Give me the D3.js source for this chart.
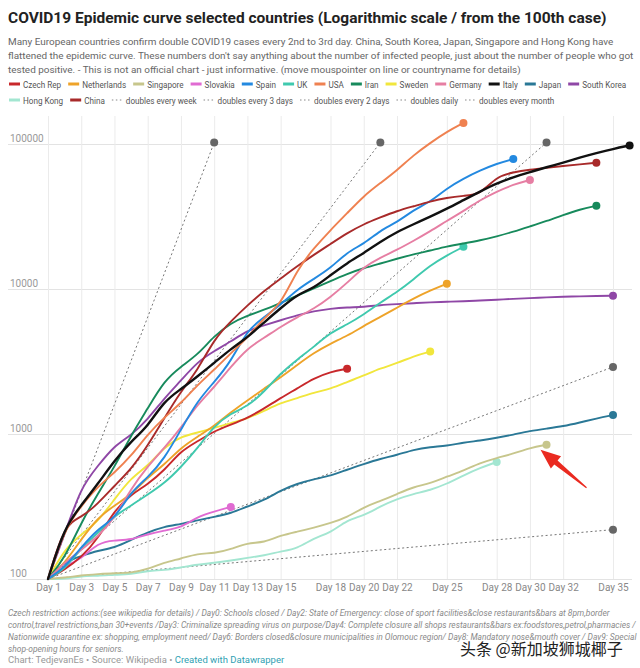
<!DOCTYPE html>
<html><head><meta charset="utf-8">
<script src="https://cdn.jsdelivr.net/npm/d3@7"></script>
<style>
body{margin:0;background:#fff;}
svg{display:block;font-family:Roboto,"Noto Sans",sans-serif;}
</style></head><body>
<svg id="c" width="640" height="668"></svg>
<script>
// ---------- DATA ----------
const countries = ["Czech Rep","Netherlands","Singapore","Slovakia","Spain","UK","USA","Iran","Sweden","Germany","Italy","Japan","South Korea","Hong Kong","China"];
const countryColors = ["#c8282b","#eea329","#c7c68c","#e06bd2","#2389e0","#3fc9ae","#ef8150","#178a5c","#f1e63c","#e67ea3","#111111","#2a7896","#8f47a6","#a3e6d1","#a82a2a"];

const czechRep = [100,116,141,189,298,383,450,560,765,889,1047,1161,1287,1497,1775,2062,2422,2689,2817];
const netherlands = [100,128,188,265,321,382,503,614,804,959,1135,1413,1705,2051,2460,2994,3631,4204,4749,5560,6412,7431,8603,9762,10866];
const singapore = [100,102,106,108,110,110,117,130,138,150,150,160,178,178,200,212,226,243,266,313,345,385,432,455,509,558,631,683,732,802,844];
const slovakia = [100,123,137,178,185,186,204,216,226,269,292,314];
const spain = [100,120,165,222,259,400,500,673,1073,1695,2277,3146,5232,6391,7798,9942,11748,13910,17963,20410,25374,28768,35136,39885,49515,57786,65719,73235,78797];
const uk = [100,116,164,207,273,321,382,456,590,798,1140,1391,1543,1950,2626,3269,3983,5018,5683,6650,8077,9529,11658,14543,17089,19522];
const usa = [100,221,319,435,541,704,994,1301,1630,2183,2770,3613,4596,6344,7783,13677,19100,25489,33276,43847,53740,65778,83836,101657,121465,139600];
const iran = [100,139,245,388,593,978,1501,2336,2922,3513,4747,5823,6566,7161,8042,9000,10075,11364,12729,13938,14991,16169,17361,18407,19644,20610,21638,23049,24811,27017,29406,32332,35408,37500];
const sweden = [100,161,203,248,355,500,599,814,961,1022,1103,1190,1279,1439,1639,1763,1934,2046,2286,2526,2840,3069,3447,3700];
const germany = [100,130,159,196,262,420,600,800,1100,1600,2100,2900,3900,4600,5500,6400,7300,8800,11000,14200,16500,18600,21500,25000,29500,34500,41000,47000,52500,56500];
const italy = [100,229,322,453,655,888,1128,1694,2036,2502,3089,3858,4636,5883,7375,9172,10149,12462,15113,17660,21157,24747,27980,31506,35713,41035,47021,53578,59138,63927,69176,74386,80589,86498,92472,97689];
const japan = [100,132,144,157,164,186,210,230,239,254,268,284,317,349,408,455,488,514,568,620,675,716,780,814,829,873,900,940,990,1050,1090,1130,1200,1280,1352];
const southKorea = [100,204,433,602,833,977,1261,1766,2337,3150,3736,4335,5186,5621,6088,6593,7041,7314,7478,7513,7755,7869,7979,8086,8162,8236,8320,8413,8565,8652,8760,8850,8900,8950,8990];
const hongKong = [100,100,105,105,107,108,114,115,120,126,129,134,140,145,155,162,192,208,256,273,317,356,386,410,453,518,583,641];
const china = [100,240,265,330,440,571,830,1287,1975,2744,4515,5974,7711,9692,11791,14380,17205,20438,24324,28018,31161,34546,37198,40171,42638,44000,44653,59804,63851,66492,68500,70548,72436,74185];

const seriesValues = [czechRep,netherlands,singapore,slovakia,spain,uk,usa,iran,sweden,germany,italy,japan,southKorea,hongKong,china];

const doublingLabels = ["doubles every week","doubles every 3 days","doubles every 2 days","doubles  daily","doubles every month"];
const doublingStart = [100,100,100,100,100];
const doublingEndDays = [35,31,21,11,35];
const doublingEndValues = [2900,102400,102400,102400,219];

const dayTicks = [1,3,5,7,9,11,13,15,18,20,22,25,28,30,32,35];
const valueTicks = [100,1000,10000,100000];

const titleText = "COVID19 Epidemic curve selected countries (Logarithmic scale / from the 100th case)";
const subtitleLines = [
 "Many European countries confirm double COVID19 cases every 2nd to 3rd day. China, South Korea, Japan, Singapore and Hong Kong have",
 "flattened the epidemic curve. These numbers don't say anything about the number of infected people, just about the number of people who got",
 "tested positive. - This is not an official chart - just informative. (move mouspointer on line or countryname for details)"
];
const footerLines = [
 "Czech restriction actions:(see wikipedia for details) / Day0: Schools closed / Day2: State of Emergency: close of sport facilities&close restaurants&bars at 8pm,border",
 "control,travel restrictions,ban 30+events /Day3: Criminalize spreading virus on purpose/Day4: Complete closure all shops restaurants&bars ex:foodstores,petrol,pharmacies /",
 "Nationwide quarantine ex: shopping, employment need/ Day6: Borders closed&closure municipalities in Olomouc region/ Day8: Mandatory nose&mouth cover / Day9: Special",
 "shop-opening hours for seniors."
];
const creditText = "Chart: TedjevanEs • Source: Wikipedia • ";
const creditLink = "Created with Datawrapper";
const watermark = "头条 @新加坡狮城椰子";

// ---------- CHART ----------
const svg = d3.select('#c');
const x = d3.scaleLinear().domain([1,35]).range([48,613]);
const y = d3.scaleLog().domain([100,100000]).range([579,144]);

function fit(sel, target){
  const w = sel.node().getComputedTextLength();
  const fs = parseFloat(sel.attr('font-size'));
  sel.attr('font-size', fs*target/w);
}

// title
const title = svg.append('text').attr('x',8).attr('y',23).attr('font-size',16)
  .attr('font-weight',700).attr('fill','#222').text(titleText);
fit(title, 599);

// subtitle
const sub = svg.append('g').attr('fill','#666');
const subT = subtitleLines.map((t,i)=>sub.append('text').attr('x',8).attr('y',45+i*14).attr('font-size',11).text(t));
fit(subT[1], 626);
const sfs = subT[1].attr('font-size');
subT.forEach(s=>s.attr('font-size', sfs));

// legend
function measure(t, fs){ const tt = svg.append('text').attr('font-size',fs).text(t); const w=tt.node().getComputedTextLength(); tt.remove(); return w; }
const swW = 11, swGap = 3, itemGap = 7;
const row1 = countries.slice(0,13).map((n,i)=>({name:n,color:countryColors[i],dotted:false}));
const row2 = countries.slice(13).map((n,i)=>({name:n,color:countryColors[13+i],dotted:false}))
  .concat(doublingLabels.map(n=>({name:n,color:'#888',dotted:true})));
const w1 = d3.sum(row1, d=>measure(d.name,10));
const fixed1 = row1.length*(swW+swGap)+(row1.length-1)*itemGap;
const legFs = 10*(627-9-fixed1)/w1;
function drawRow(items, cy){
  let cx = 9;
  const g = svg.append('g');
  items.forEach(d=>{
    if(d.dotted){
      g.append('line').attr('x1',cx).attr('x2',cx+swW).attr('y1',cy).attr('y2',cy)
        .attr('stroke','#888').attr('stroke-width',1.2).attr('stroke-dasharray','1.5,2.5');
    } else {
      g.append('line').attr('x1',cx).attr('x2',cx+swW).attr('y1',cy).attr('y2',cy)
        .attr('stroke',d.color).attr('stroke-width',3);
    }
    const t = g.append('text').attr('x',cx+swW+swGap).attr('y',cy+3.5).attr('font-size',legFs)
      .attr('fill','#555').text(d.name);
    cx += swW+swGap+t.node().getComputedTextLength()+itemGap;
  });
}
drawRow(row1, 84);
drawRow(row2, 100);

// axes / grid
const yAxis = d3.axisRight(y).tickValues(valueTicks).tickSize(624).tickFormat(d3.format('d'));
const gy = svg.append('g').attr('transform','translate(8,0)').call(yAxis);
gy.select('.domain').remove();
gy.selectAll('line').attr('stroke','#e3e3e3');
gy.selectAll('text').attr('x',2).attr('dy',-3).attr('text-anchor','start')
  .attr('fill','#999').attr('font-size',10).attr('font-family','Roboto');

const xAxis = d3.axisBottom(x).tickValues(dayTicks).tickSize(-(579-116)).tickFormat(d=>'Day '+d);
const gx = svg.append('g').attr('transform','translate(0,579)').call(xAxis);
gx.select('.domain').remove();
gx.selectAll('line').attr('stroke','#ebebeb');
gx.selectAll('text').attr('y',5).attr('fill','#888').attr('font-size',10).attr('font-family','Roboto');

// doubling reference lines
const gd = svg.append('g');
doublingLabels.forEach((l,i)=>{
  gd.append('line').attr('x1',x(1)).attr('y1',y(doublingStart[i]))
    .attr('x2',x(doublingEndDays[i])).attr('y2',y(doublingEndValues[i]))
    .attr('stroke','#777').attr('stroke-width',1).attr('stroke-dasharray','2,2.5');
  gd.append('circle').attr('cx',x(doublingEndDays[i])).attr('cy',y(doublingEndValues[i]))
    .attr('r',4).attr('fill','#666');
});

// country lines
const line = d3.line().x((d,i)=>x(i+1)).y(d=>y(d)).curve(d3.curveBasis);
const order = [13,2,11,3,12,8,0,1,5,7,9,4,14,6,10];
const gl = svg.append('g');
order.forEach(i=>{
  const vals = seriesValues[i];
  gl.append('path').attr('d',line(vals)).attr('fill','none')
    .attr('stroke',countryColors[i]).attr('stroke-width', i===10?2.4:1.9)
    .attr('stroke-linejoin','round').attr('stroke-linecap','round');
  gl.append('circle').attr('cx',x(vals.length)).attr('cy',y(vals[vals.length-1]))
    .attr('r',4).attr('fill',countryColors[i]);
});

// red annotation arrow pointing at Singapore's last point
(function(){
  const sx = x(singapore.length), sy = y(singapore[singapore.length-1]);
  const tip = [sx-6, sy+5];
  const tail = [tip[0]+46, tip[1]+38];
  const L = Math.hypot(tail[0]-tip[0], tail[1]-tip[1]);
  const u = [(tail[0]-tip[0])/L, (tail[1]-tip[1])/L];
  const n = [-u[1], u[0]];
  const B = [tip[0]+u[0]*20, tip[1]+u[1]*20];
  const p = (c,k)=>[c[0]+n[0]*k, c[1]+n[1]*k];
  const pts = [tip, p(B,8), p(B,2.6), p(tail,0.6), p(tail,-0.6), p(B,-2.6), p(B,-8)];
  svg.append('path').attr('d','M'+pts.map(q=>q.join(',')).join('L')+'Z').attr('fill','#ea2a20');
})();

// footer
const gf = svg.append('g').attr('fill','#8a8a8a').attr('font-style','italic');
const fT = footerLines.map((t,i)=>gf.append('text').attr('x',8).attr('y',615.5+i*12).attr('font-size',10).text(t));
fit(fT[0], 603);
const ffs = fT[0].attr('font-size');
fT.forEach(f=>f.attr('font-size',ffs));
const cr = svg.append('text').attr('x',8).attr('y',663).attr('font-size',9.5).attr('fill','#999');
cr.append('tspan').text(creditText);
cr.append('tspan').attr('fill','#2f9fb3').text(creditLink);

// watermark (overlay in the reference)
svg.append('text').attr('x',460).attr('y',655).attr('font-size',16)
  .attr('font-family','"Noto Sans CJK SC",sans-serif').attr('fill','#222')
  .attr('stroke','#fff').attr('stroke-width',3).attr('paint-order','stroke')
  .text(watermark);
</script>
</body></html>
